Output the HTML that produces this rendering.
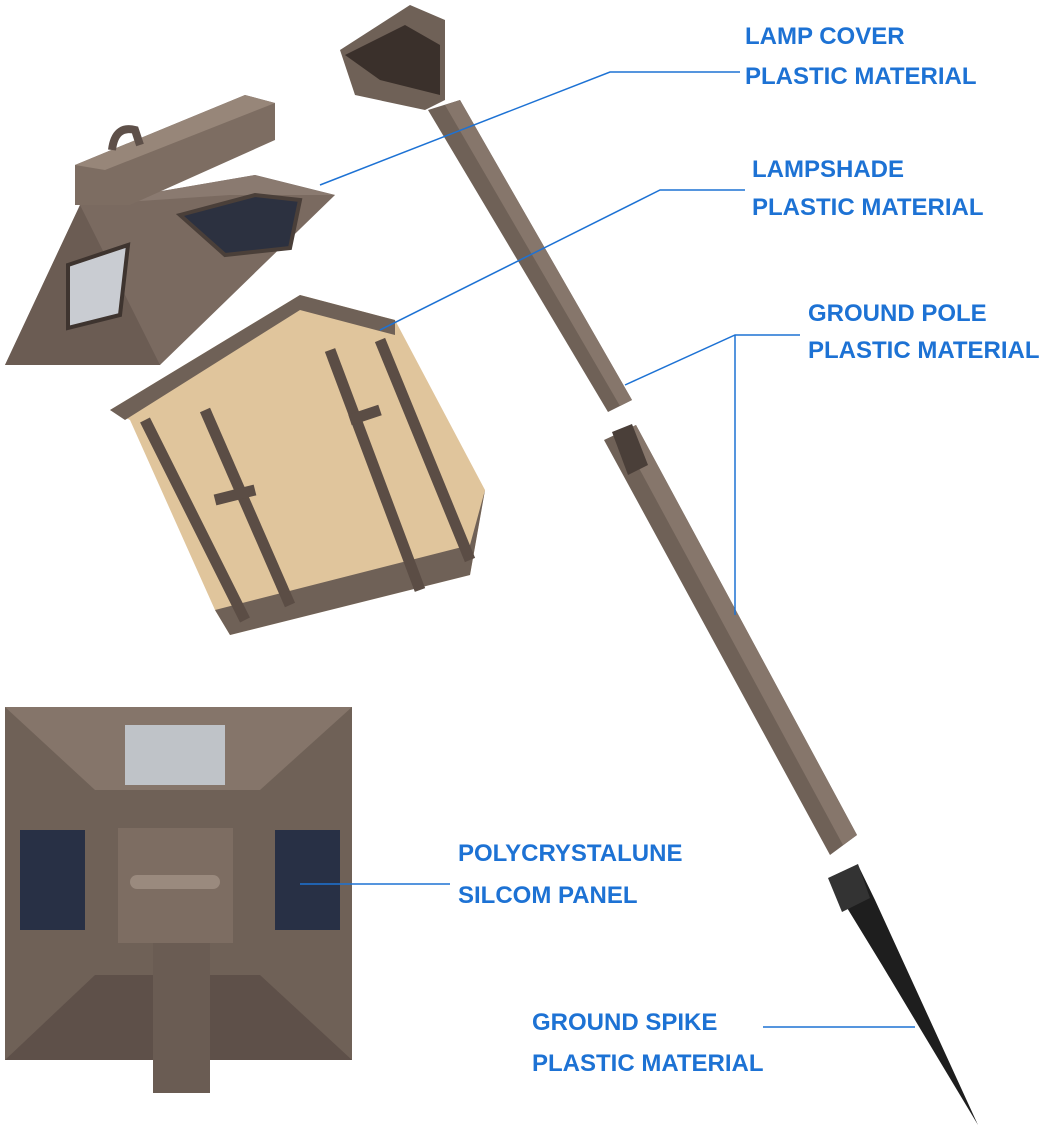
<!DOCTYPE html>
<html><head><meta charset="utf-8"><style>
html,body{margin:0;padding:0;background:#fff;width:1041px;height:1128px;overflow:hidden}
svg text{font-family:"Liberation Sans",sans-serif;font-weight:bold;fill:#1d72d4;font-size:24px}
</style></head><body>
<svg width="1041" height="1128" viewBox="0 0 1041 1128" xmlns="http://www.w3.org/2000/svg">
<polygon points="5,365 160,365 335,195 255,175 80,205" fill="#7a6a60"/>
<polygon points="5,365 80,205 160,365" fill="#6b5c53"/>
<polygon points="80,205 255,175 335,195 230,195" fill="#8a7a70"/>
<polygon points="68,265 128,245 120,315 68,328" fill="#c9ccd2" stroke="#3e342f" stroke-width="4"/>
<polygon points="180,215 255,195 300,200 290,248 225,255" fill="#2c3140" stroke="#4a3f39" stroke-width="4"/>
<polygon points="75,165 245,95 275,103 275,140 130,205 75,205" fill="#7d6d62"/>
<polygon points="75,165 245,95 275,103 105,170" fill="#978679"/>
<path d="M112,150 Q115,125 135,130 L140,145" fill="none" stroke="#5e5049" stroke-width="8"/>
<polygon points="110,410 300,295 395,320 485,490 470,575 230,635 215,610 130,420" fill="#e0c59c"/>
<polygon points="110,410 300,295 395,320 395,335 300,310 125,420" fill="#6f6157"/>
<polygon points="215,610 470,545 485,490 470,575 230,635" fill="#6f6157"/>
<g stroke="#5b4d45" stroke-width="11" fill="none">
<line x1="145" y1="420" x2="245" y2="620"/>
<line x1="205" y1="410" x2="290" y2="605"/>
<line x1="330" y1="350" x2="420" y2="590"/>
<line x1="380" y1="340" x2="470" y2="560"/>
<line x1="215" y1="500" x2="255" y2="490"/>
<line x1="350" y1="420" x2="380" y2="410"/>
</g>
<polygon points="340,50 410,5 445,20 445,100 425,110 355,95" fill="#6f6157"/>
<polygon points="345,55 405,25 440,45 440,95 380,80" fill="#3a302b"/>
<polygon points="428,110 460,100 632,400 608,412" fill="#6f6157"/>
<polygon points="445,105 460,100 632,400 620,406" fill="#86766b"/>
<polygon points="604,440 636,425 857,835 830,855" fill="#6f6157"/>
<polygon points="620,433 636,425 857,835 843,845" fill="#86766b"/>
<polygon points="612,432 632,424 648,465 628,475" fill="#4a3f39"/>
<polygon points="830,880 858,865 875,900 978,1125 882,965" fill="#1e1e1e"/>
<polygon points="828,878 858,864 870,898 842,912" fill="#333"/>
<rect x="5" y="707" width="347" height="353" fill="#6f6157"/>
<polygon points="5,707 352,707 260,790 95,790" fill="#85756a"/>
<polygon points="5,1060 352,1060 260,975 95,975" fill="#5e5049"/>
<rect x="125" y="725" width="100" height="60" fill="#bfc3c8"/>
<rect x="20" y="830" width="65" height="100" fill="#283045"/>
<rect x="275" y="830" width="65" height="100" fill="#283045"/>
<rect x="118" y="828" width="115" height="115" fill="#7d6d62"/>
<rect x="130" y="875" width="90" height="14" rx="7" fill="#9a8a7e"/>
<rect x="153" y="943" width="57" height="150" fill="#6a5c53"/>
<g stroke="#1d72d4" stroke-width="1.5" fill="none">
<polyline points="320,185 610,72 740,72"/>
<polyline points="380,330 660,190 745,190"/>
<polyline points="625,385 735,335 800,335"/>
<line x1="735" y1="335" x2="735" y2="615"/>
<line x1="300" y1="884" x2="450" y2="884"/>
<line x1="763" y1="1027" x2="915" y2="1027"/>
</g>
<text x="745" y="44">LAMP COVER</text>
<text x="745" y="84">PLASTIC MATERIAL</text>
<text x="752" y="177">LAMPSHADE</text>
<text x="752" y="215">PLASTIC MATERIAL</text>
<text x="808" y="321">GROUND POLE</text>
<text x="808" y="358">PLASTIC MATERIAL</text>
<text x="458" y="861">POLYCRYSTALUNE</text>
<text x="458" y="903">SILCOM PANEL</text>
<text x="532" y="1030">GROUND SPIKE</text>
<text x="532" y="1071">PLASTIC MATERIAL</text>
</svg>
</body></html>
